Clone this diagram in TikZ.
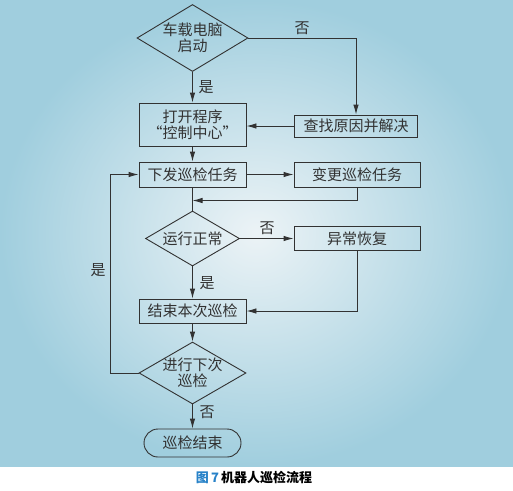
\documentclass[tikz,border=0pt]{standalone}
\usepackage{fontspec}
\setmainfont{Noto Sans CJK SC}
\usepackage{tikz}
\usetikzlibrary{arrows.meta,shapes.geometric}
\definecolor{bgin}{RGB}{236,243,246}
\definecolor{bgout}{RGB}{160,206,222}
\definecolor{ln}{RGB}{50,50,50}
\definecolor{capblue}{RGB}{40,130,200}

\begin{document}
\begin{tikzpicture}[x=1pt,y=-1pt,>={Latex[length=10pt,width=5.5pt]},
  every node/.style={font=\fontsize{15}{16}\selectfont,text=ln},
  proc/.style={rectangle,draw=ln,line width=0.9pt,inner sep=0pt,align=center},
  dec/.style={diamond,draw=ln,line width=0.9pt,inner sep=0pt,align=center,aspect=1.65},
  term/.style={rectangle,rounded corners=14pt,draw=ln,line width=0.9pt,inner sep=0pt},
  flow/.style={->,draw=ln,line width=0.9pt},
  plain/.style={draw=ln,line width=0.9pt},
  lab/.style={inner sep=1pt}]
  \useasboundingbox (0,0) rectangle (513,490);
  \shade[inner color=bgin,outer color=bgout] (0,0) rectangle (513,466);
  \node[dec,minimum width=111,minimum height=67] (boot) at (192.5,38) {车载电脑\\启动};
  \node[proc,minimum width=107,minimum height=43] (open) at (192.5,124.5) {打开程序\\“控制中心”};
  \node[proc,minimum width=123,minimum height=22] (fix) at (356,126) {查找原因并解决};
  \node[proc,minimum width=107,minimum height=25] (send) at (192.5,174.5) {下发巡检任务};
  \node[proc,minimum width=126,minimum height=25] (change) at (357,174.5) {变更巡检任务};
  \coordinate (join) at (192.5,200.5);
  \node[dec,minimum width=94,minimum height=55,aspect=1.7] (ok) at (192.5,238.5) {运行正常};
  \node[proc,minimum width=126,minimum height=24] (recover) at (357,238.5) {异常恢复};
  \node[proc,minimum width=107,minimum height=24] (finish) at (192.5,311) {结束本次巡检};
  \node[dec,minimum width=107,minimum height=62,inner sep=-2pt,aspect=1.7] (next) at (192.5,373) {进行下次\\巡检};
  \node[term,minimum width=97,minimum height=28] (stop) at (192.5,443) {巡检结束};
  \node[lab] (yes1) at (206,87) {是};
  \node[lab] (no1) at (302,28) {否};
  \node[lab] (no2) at (267,228) {否};
  \node[lab] (yes2) at (207,283) {是};
  \node[lab] (yes3) at (98,270) {是};
  \node[lab] (no3) at (207,412) {否};
  \draw[flow] (boot) -- (open);
  \draw[flow] (boot.east) -| (fix.north);
  \draw[flow] (fix.west) -- (fix.west -| open.east);
  \draw[flow] (open) -- (send);
  \draw[flow] (send) -- (change);
  \draw[plain] (send) -- (ok);
  \draw[flow] (change.south) |- (join);
  \draw[flow] (ok) -- (recover);
  \draw[flow] (ok) -- (finish);
  \draw[flow] (recover.south) |- (finish.east);
  \draw[flow] (finish) -- (next);
  \draw[flow] (next.west) -- ++(-28,0) |- (send.west);
  \draw[flow] (next) -- (stop);
  \node[text=black] (cap) at (254,477) {\fontsize{13}{14}\selectfont\bfseries\textcolor{capblue}{图\,7}\,机器人巡检流程};
\end{tikzpicture}
\end{document}
